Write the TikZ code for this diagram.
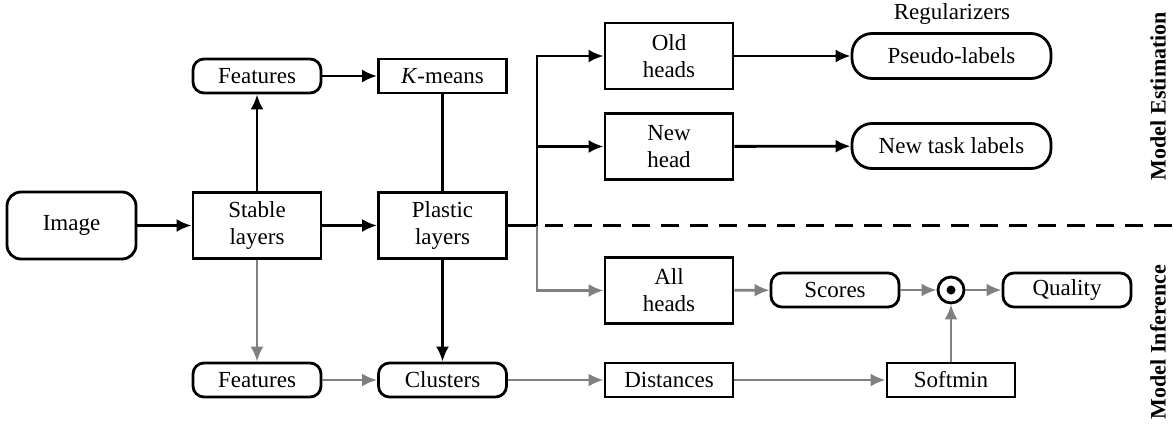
\documentclass[tikz,border=0pt]{standalone}
\usepackage{fontspec}
\setmainfont{Liberation Serif}
\usetikzlibrary{arrows.meta}

\begin{document}
\begin{tikzpicture}[x=1pt,y=-1pt,->,>={Latex[length=15pt,width=13pt]},line width=2.8pt,
  every node/.style={font=\fontsize{23}{27}\selectfont,align=center},
  blk/.style={draw,rectangle,minimum width=128pt,minimum height=66pt,inner sep=0pt},
  slim/.style={draw,rectangle,minimum width=128pt,minimum height=34pt,inner sep=0pt},
  pill/.style={slim,rounded corners=11pt},
  capsule/.style={draw,rectangle,rounded corners=20pt,minimum width=199pt,minimum height=45pt,inner sep=0pt},
  side/.style={rotate=90,font=\fontsize{22}{27}\selectfont\bfseries}]
  \useasboundingbox (0,0) rectangle (1175,429);
  % backbone
  \node (image) [blk,rounded corners=14pt,minimum width=129pt,minimum height=67pt] at (71.5,225.5) {Image};
  \node (stable) [blk] at (257,225.5) {Stable\\layers};
  \node (plastic) [blk] at (442.5,225.5) {Plastic\\layers};
  \node (feat) [pill] at (257,76) {Features};
  \node (kmeans) [slim] at (442.5,76) {\textit{K}-means};
  \coordinate (split) at (537,225.5);
  % heads
  \node (old) [blk] at (669,56) {Old\\heads};
  \node (new) [blk] at (669,146.5) {New\\head};
  \node (all) [blk] at (669,290.5) {All\\heads};
  \node (reg) at (952,14) {Regularizers};
  \node (pseudo) [capsule] at (951.5,56) {Pseudo-labels};
  \node (task) [capsule] at (951.5,146) {New task labels};
  \node (scores) [pill] at (835,290) {Scores};
  \node (prod) [draw,circle,minimum size=26pt,inner sep=0pt] at (951,290) {};
  \fill (prod.center) circle (4.5pt);
  \node (quality) [pill] at (1067,290) {Quality};
  % inference row
  \node (featlow) [pill] at (257,380) {Features};
  \node (clusters) [pill] at (442.5,380) {Clusters};
  \node (dist) [slim] at (669,380) {Distances};
  \node (softmin) [slim] at (951,380) {Softmin};
  \node (est) [side] at (1158,96) {Model Estimation};
  \node (inf) [side] at (1158,342) {Model Inference};

  \path (image) edge (stable)
        (stable) edge (plastic)
        (stable) edge (feat)
        (feat) edge (kmeans)
        (kmeans) edge[-] (plastic)
        (plastic) edge[-] (split)
        (plastic) edge (clusters)
        (old) edge (pseudo)
        (new) edge (task);
  \draw (split) |- (old);
  \draw (split) |- (new);
  \draw[-,dash pattern=on 18pt off 11pt] (split) ++(8,0) -- (1175,225.5);
  \draw[gray] (split) |- (all);
  \path[gray] (stable) edge (featlow)
        (featlow) edge (clusters)
        (clusters) edge (dist)
        (dist) edge (softmin)
        (all) edge (scores)
        (scores) edge (prod)
        (prod) edge (quality)
        (softmin) edge (prod);
\end{tikzpicture}
\end{document}
